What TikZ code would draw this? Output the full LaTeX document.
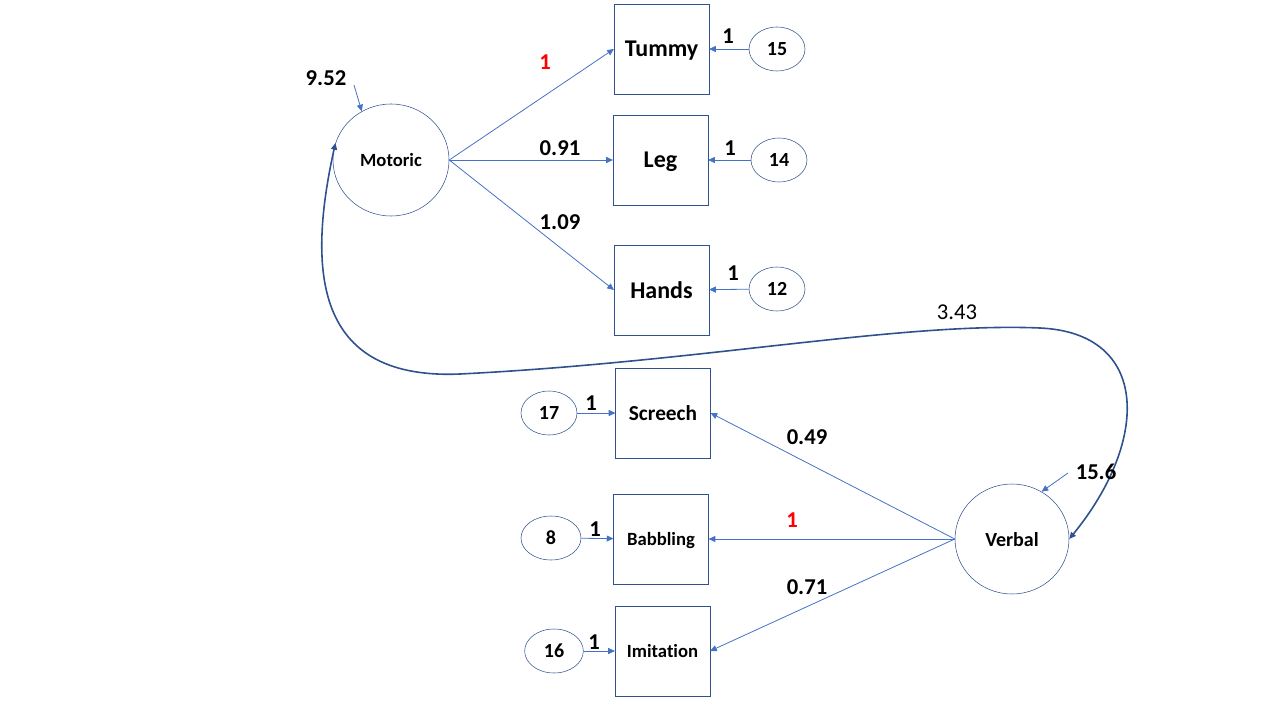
\documentclass[tikz,border=0pt]{standalone}
\usepackage{fontspec}
\setmainfont{Carlito}[Ligatures=NoCommon]
\usepackage{tikz}
\usetikzlibrary{positioning}
\usetikzlibrary{arrows.meta,shapes.geometric}

\definecolor{lineblue}{HTML}{4472C4}
\definecolor{darkblue}{HTML}{2F528F}
\newcommand{\fsz}[1]{\fontsize{#1}{#1}\selectfont}

\tikzset{
    obs/.style={draw=darkblue, rectangle, minimum width=71pt, minimum height=67.5pt, inner sep=0pt, text depth=0pt, font=\bfseries\fsz{18}},
    lat/.style={draw=darkblue, ellipse, minimum width=87pt, minimum height=84pt, inner sep=0pt, text depth=0pt, font=\bfseries\fsz{14}},
    err/.style={draw=darkblue, ellipse, minimum width=42pt, minimum height=33pt, inner sep=0pt, text depth=0pt, font=\bfseries\fsz{15}},
    load/.style={lineblue, line width=0.6pt, -{Triangle[length=5pt,width=4.5pt]}},
    cov/.style={darkblue, line width=1.2pt, {Triangle[length=5pt,width=4.5pt]}-{Triangle[length=5pt,width=4.5pt]}},
    lbl/.style={inner sep=0pt, font=\bfseries\fsz{17}},
}

\begin{document}
\begin{tikzpicture}[x=0.75pt, y=-0.75pt]
    \useasboundingbox (0,0) rectangle (1280,720);

    % latent factors
    \node[lat] (mot) at (391,160) {Motoric};
    \node[lat, minimum width=85.5pt, minimum height=82.5pt, font=\bfseries\fsz{15}] (verb) at (1012,539) {Verbal};

    % indicators
    \node[obs] (tum) at (661.5,49) {Tummy};
    \node[obs] (leg) at (660.5,160) {Leg};
    \node[obs] (hand) at (661.5,290) {Hands};
    \node[obs, font=\bfseries\fsz{16}] (scr) at (663,413) {Screech};
    \node[obs, font=\bfseries\fsz{14}] (bab) at (661,539) {Babbling};
    \node[obs, font=\bfseries\fsz{14}] (imi) at (662.5,651) {Imitation};

    % errors
    \node[err] (e15) at (777,49) {15};
    \node[err] (e14) at (779,160) {14};
    \node[err] (e12) at (777,289) {12};
    \node[err] (e17) at (549,413) {17};
    \node[err, minimum width=45pt] (e8) at (551,538) {8};
    \node[err, minimum width=44pt] (e16) at (554,651) {16};

    \coordinate (vm) at (354,85);
    \coordinate (vv) at (1068,473);

    \path[load]
        (mot.east) edge (tum.west)
        (mot.east) edge (leg.west)
        (mot.east) edge (hand.west)
        (verb.west) edge (scr.east)
        (verb.west) edge (bab.east)
        (verb.west) edge (imi.east)
        (e15) edge (tum)
        (e14) edge (leg)
        (e12) edge (hand)
        (e17) edge (scr)
        (e8) edge (bab)
        (e16) edge (imi)
        (vm) edge (mot.121)
        (vv) edge (verb.58);

    \draw[cov] (mot.163) .. controls (305,280) and (320,380) .. (460,374)
        .. controls (700,362) and (900,322) .. (1040,328)
        .. controls (1150,333) and (1150,440) .. (verb.east);

    % loadings
    \node[lbl, red] at (545,62) {1};
    \node[lbl] at (560,148) {0.91};
    \node[lbl] at (560,222) {1.09};
    \node[lbl] at (807,437) {0.49};
    \node[lbl, red] at (792,520) {1};
    \node[lbl] at (807,587) {0.71};

    % variances and covariance
    \node[lbl] at (326,78) {9.52};
    \node[lbl] at (1096,472) {15.6};
    \node[lbl, font=\fsz{17}] at (957,312) {3.43};

    % error weights
    \node[lbl] at (728,36) {1};
    \node[lbl] at (730,148) {1};
    \node[lbl] at (733,273) {1};
    \node[lbl] at (591,403) {1};
    \node[lbl] at (595,529) {1};
    \node[lbl] at (594,642) {1};
\end{tikzpicture}
\end{document}
